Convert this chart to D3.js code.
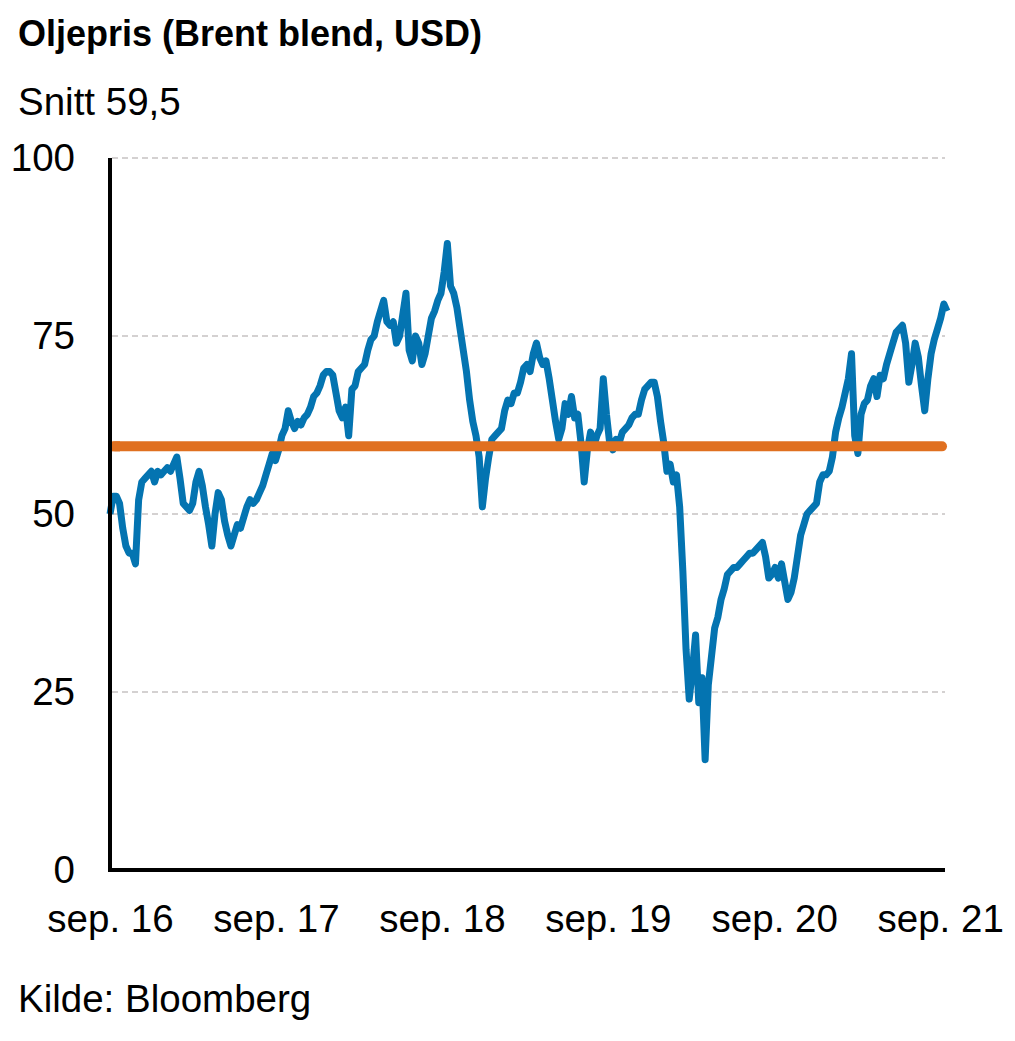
<!DOCTYPE html>
<html><head><meta charset="utf-8">
<script src="https://cdn.jsdelivr.net/npm/d3@7"></script>
<style>
body{margin:0;background:#fff}
svg{display:block}
text{font-family:"Liberation Sans",Arial,sans-serif;fill:#000}
</style>
</head><body>
<svg id="chart" width="1015" height="1041"></svg>
<script>
const titleText = "Oljepris (Brent blend, USD)";
const subtitleText = "Snitt 59,5";
const sourceText = "Kilde: Bloomberg";
const averageValue = 59.5;
const yTickValues = [0, 25, 50, 75, 100];
const xTickLabels = ["sep. 16", "sep. 17", "sep. 18", "sep. 19", "sep. 20", "sep. 21"];
const startDate = new Date(2016, 8, 2);

// Weekly Brent prices (USD)
const brentYear1 = [50, 52.5, 52.5, 51.5, 48, 45.5, 44.5, 44.5, 43, 52, 54.5, 55, 55.5, 56, 54.5, 56, 55.5, 56, 56.5, 56, 57, 58, 55, 51.5, 51, 50.5, 51.5, 54.5, 56, 54, 51, 48.5, 45.5, 50, 53, 52, 49, 47, 45.5, 47, 48.5, 48, 49.5, 51, 52, 51.5, 52, 53, 54, 55.5, 57, 58.5];
const brentYear2 = [57.5, 59, 61, 62, 64.5, 63, 62, 63, 62.5, 63.5, 64, 65, 66.5, 67, 68, 69.5, 70, 70, 69.5, 67, 64.5, 63.5, 65, 61, 67.5, 68, 70, 70.5, 71, 73, 74.5, 75, 77, 78.5, 80, 77, 76.5, 77, 74, 75, 78, 81, 73, 71.5, 75, 74, 71, 72.5, 75, 77.5, 78.5, 80];
const brentYear3 = [81, 84, 88, 82, 81, 79, 76, 73, 70, 66, 63, 61, 58, 51, 55, 58, 60.5, 61, 61.5, 62, 64.5, 66, 65.5, 67, 67, 68.5, 70.5, 71, 70, 72.5, 74, 72, 71, 71.5, 69, 66, 63, 60.5, 62, 65.5, 64, 66.5, 63.5, 64, 60, 54.5, 59, 61.5, 59.5, 61, 62, 69];
const brentYear4 = [64, 60, 59, 60.5, 60, 61.5, 62, 62.5, 63.5, 64, 64, 66, 67.5, 68, 68.5, 68.5, 66.5, 63, 60, 56, 57, 54.5, 55.5, 51, 42, 31, 24, 28, 33, 23.5, 27, 15.5, 26, 30, 34, 35.5, 38, 39.5, 41.5, 42, 42.5, 42.5, 43, 43.5, 44, 44.5, 44.5, 45, 45.5, 46, 44, 41];
const brentYear5 = [41.5, 42.5, 41, 43, 40.5, 38, 39, 41, 44, 47, 48.5, 50, 50.5, 51, 51.5, 54.5, 55.5, 55.5, 56, 58, 61.5, 63.5, 65, 67, 69, 72.5, 61, 58.5, 64, 65.5, 66, 68, 69, 66.5, 69.5, 69, 71, 72.5, 74, 75.5, 76, 76.5, 74, 68.5, 71, 74, 72, 68, 64.5, 69, 72.5, 74.5, 76, 77.5, 79.5, 78.5];

const brent = [].concat(brentYear1, brentYear2, brentYear3, brentYear4, brentYear5);
const data = brent.map((v, i) => ({date: d3.timeWeek.offset(startDate, i), value: v}));
const xTickDates = xTickLabels.map((_, k) => d3.timeYear.offset(startDate, k));

const svg = d3.select("#chart");
const plotLeft = 110, plotRight = 947, plotTop = 158, plotBottom = 870;
const labelSize = 38.5;

const x = d3.scaleTime().domain(d3.extent(data, d => d.date)).range([plotLeft, plotRight]);
const y = d3.scaleLinear().domain([0, 100]).range([plotBottom, plotTop]);

// titles
svg.append("text").attr("x", 18).attr("y", 46).attr("font-size", 36).attr("font-weight", "bold").text(titleText);
svg.append("text").attr("x", 18).attr("y", 115).attr("font-size", labelSize).text(subtitleText);
svg.append("text").attr("x", 18).attr("y", 1012).attr("font-size", labelSize).text(sourceText);

// gridlines
svg.append("g").selectAll("line").data(yTickValues.filter(d => d > 0)).join("line")
  .attr("x1", plotLeft + 2).attr("x2", 945)
  .attr("y1", d => y(d)).attr("y2", d => y(d))
  .attr("stroke", "#aaa4a4").attr("stroke-width", 1.2).attr("stroke-dasharray", "6,4");

// y axis labels
const yAxis = svg.append("g").attr("transform", `translate(${plotLeft},0)`)
  .call(d3.axisLeft(y).tickValues(yTickValues).tickSize(0).tickPadding(35).tickFormat(d3.format("d")));
yAxis.select(".domain").remove();
yAxis.selectAll("text").attr("font-size", labelSize).attr("font-family", '"Liberation Sans",Arial,sans-serif').attr("fill", "#000");

// x axis labels
const xAxis = svg.append("g").attr("transform", `translate(0,${plotBottom})`)
  .call(d3.axisBottom(x).tickValues(xTickDates).tickSize(0).tickPadding(35).tickFormat((d, i) => xTickLabels[i]));
xAxis.select(".domain").remove();
xAxis.selectAll("text").attr("font-size", labelSize).attr("font-family", '"Liberation Sans",Arial,sans-serif').attr("fill", "#000");

// price line
const line = d3.line().x(d => x(d.date)).y(d => y(d.value));
svg.append("path").datum(data).attr("d", line)
  .attr("fill", "none").attr("stroke", "#0474b1").attr("stroke-width", 7)
  .attr("stroke-linejoin", "round").attr("stroke-linecap", "butt");

// average line
svg.append("rect")
  .attr("x", plotLeft).attr("width", plotRight - plotLeft)
  .attr("y", y(averageValue) - 5).attr("height", 10).attr("rx", 5)
  .attr("fill", "#e07020");
svg.append("rect")
  .attr("x", plotLeft).attr("width", 10)
  .attr("y", y(averageValue) - 5).attr("height", 10)
  .attr("fill", "#e07020");

// axis lines
svg.append("line").attr("x1", plotLeft).attr("x2", plotLeft).attr("y1", plotTop).attr("y2", plotBottom + 2)
  .attr("stroke", "#000").attr("stroke-width", 4);
svg.append("line").attr("x1", plotLeft - 2).attr("x2", 945).attr("y1", plotBottom).attr("y2", plotBottom)
  .attr("stroke", "#000").attr("stroke-width", 4);
</script>
</body></html>
